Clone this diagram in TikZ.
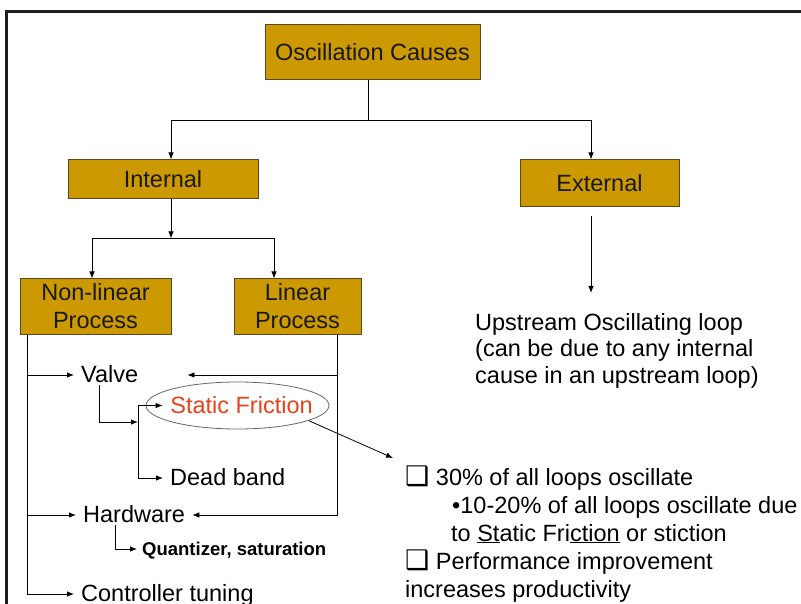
\documentclass[tikz,border=0pt]{standalone}
\usepackage{fontspec}
\setmainfont{Liberation Sans}
\newfontfamily\djv{DejaVu Sans}
\usetikzlibrary{arrows.meta,shapes.geometric,calc}
\definecolor{gold}{RGB}{204,153,0}
\definecolor{boxedge}{RGB}{90,70,40}
\definecolor{sfred}{RGB}{232,66,28}
\definecolor{framec}{RGB}{30,30,30}
\newcommand{\boxsym}{{\djv\fontsize{27}{20}\selectfont ❑}}
\begin{document}
\begin{tikzpicture}[x={(1pt,0)},y={(0,-1pt)},
  arr/.style={-{Latex[length=7pt,width=5.5pt]},line width=0.8pt},
  ln/.style={line width=0.8pt},
  gbox/.style={draw=boxedge,fill=gold,line width=1pt,inner sep=0pt,align=center,text=black!90,font=\fontsize{23.5}{28}\selectfont},
  lbl/.style={anchor=base west,inner xsep=7pt,inner ysep=3pt,text height=14pt,text depth=0pt,font=\fontsize{23.5}{28}\selectfont},
  para/.style={anchor=base west,align=left,inner sep=0pt}]
\useasboundingbox (0,0) rectangle (801,604);
\fill[white] (0,0) rectangle (801,604);
% frame
\draw[framec,line width=3pt] (6.5,604) -- (6.5,11.5) -- (801,11.5);
% boxes
\node[gbox,minimum width=215pt,minimum height=55pt] (osc) at (372.5,52.5) {Oscillation Causes};
\node[gbox,minimum width=190pt,minimum height=39pt] (int) at (163,179.5) {Internal};
\node[gbox,minimum width=159pt,minimum height=47pt] (ext) at (599.5,183.5) {External};
\node[gbox,minimum width=151pt,minimum height=55pt] (nonlin) at (95.5,306.5) {Non-linear\\Process};
\node[gbox,minimum width=127pt,minimum height=55pt] (lin) at (297.5,306.5) {Linear\\Process};
% text items
\node[lbl] (valve) at (74,382) {Valve};
\node[ellipse,draw=black!60,line width=0.8pt,minimum width=183pt,minimum height=47pt,inner xsep=-14pt,inner ysep=0pt,text=sfred,font=\fontsize{23.5}{28}\selectfont] (sf) at (237.5,405.5) {\hspace*{8pt}Static Friction};
\node[lbl] (db) at (163,485) {Dead band};
\node[lbl] (hw) at (76,522) {Hardware};
\node[lbl,font=\fontsize{18.5}{22}\selectfont\bfseries,text height=12pt,inner xsep=5pt] (qz) at (137,555) {Quantizer, saturation};
\node[lbl] (ctrl) at (74,601) {Controller tuning};
\node[para,font=\fontsize{23.5}{26.5}\selectfont] (up) at (475,383) {Upstream Oscillating loop\\(can be due to any internal\\cause in an upstream loop)};
\node[para,font=\fontsize{23.5}{28}\selectfont] (facts) at (405,597) {\boxsym\ 30\% of all loops oscillate\\\hspace*{47pt}•10-20\% of all loops oscillate due\\\hspace*{46pt}to \underline{St}atic Fri\underline{ction} or stiction\\\boxsym\ Performance improvement\\increases productivity};
% coordinates
\coordinate (etip) at (591,293);
\coordinate (sftip) at (393,458);
\coordinate (nj) at ($(nonlin.south west)+(8,0)$);
\coordinate (lj) at ($(lin.south east)+(-24,0)$);
\path (valve.east) ++(42pt,0) coordinate (vtip);
\coordinate (vb) at ($(valve.south west)+(25,0)$);
\coordinate (vj) at (138,422);
\coordinate (bx) at (138,0);
\coordinate (hb) at ($(hw.south west)+(39,0)$);
% connectors
\draw[ln] ([xshift=-4.5pt]osc.south) -- ++(0,40) coordinate (oj);
\draw[arr] (oj) -| ([xshift=8pt]int.north);
\draw[arr] (oj) -| ([xshift=-8.5pt]ext.north);
\draw[arr] ([xshift=-8.5pt,yshift=-9pt]ext.south) -- (etip);
\draw[arr] ([xshift=8pt]int.south) -- ++(0,39) coordinate (ij);
\draw[arr] (ij) -| ([xshift=-3.5pt]nonlin.north);
\draw[arr] (ij) -| ([xshift=-23.5pt]lin.north);
\draw[arr] (nj) |- (ctrl.west);
\draw[arr] (nj |- valve.west) -- (valve.west);
\draw[arr] (nj |- hw.west) -- (hw.west);
\draw[arr] (lj) |- (hw.east);
\draw[arr] (lj |- vtip) -- (vtip);
\draw[arr] (vb) |- (vj);
\draw[arr] (sf.west -| bx) -- ([xshift=17pt]sf.west);
\draw[arr] (sf.west -| bx) |- (db.west);
\draw[arr] (hb) |- (qz.west);
\draw[arr] (sf.-12) -- (sftip);
\end{tikzpicture}
\end{document}
